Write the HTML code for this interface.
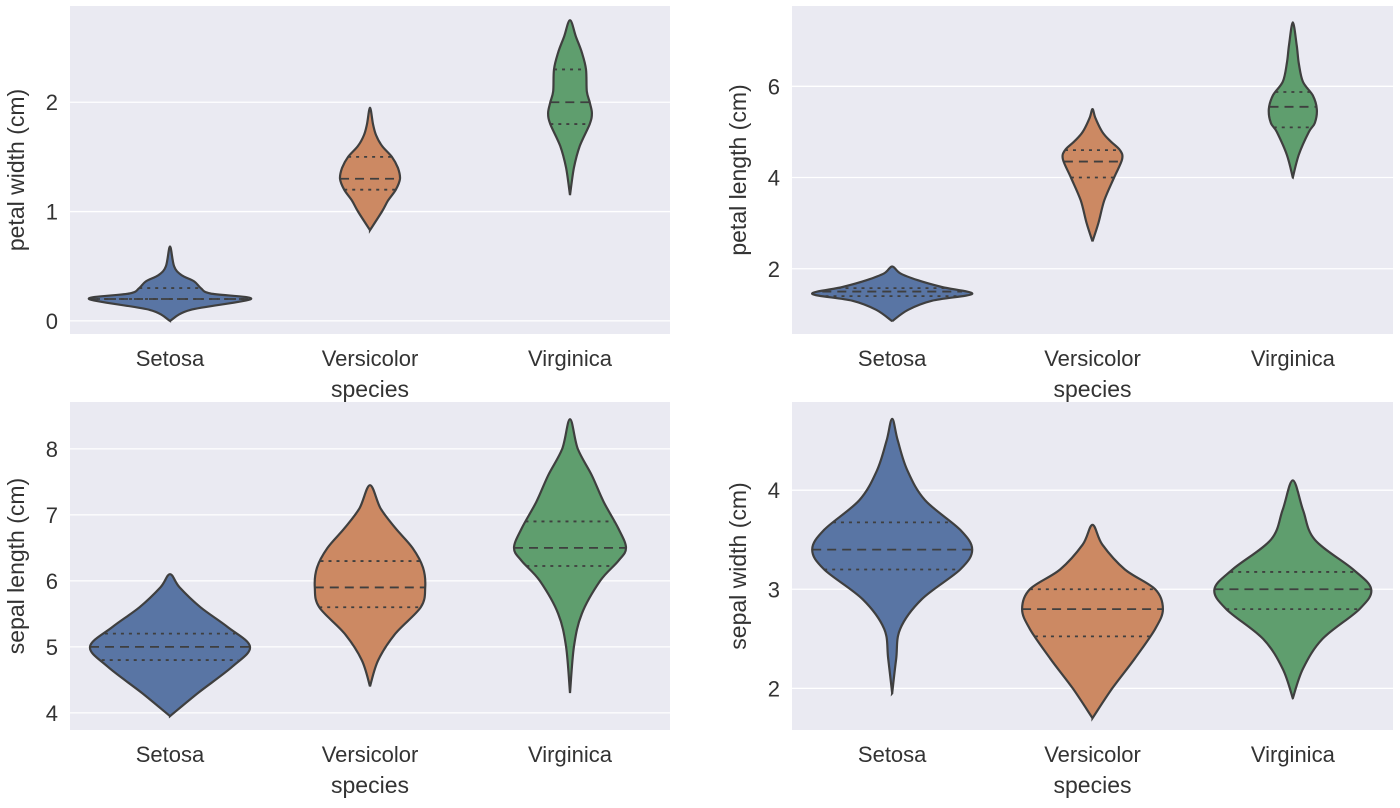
<!DOCTYPE html>
<html><head><meta charset="utf-8">
<style>
html,body{margin:0;padding:0;background:#fff;}
svg{display:block;font-family:"Liberation Sans",Arial,sans-serif;}
</style></head>
<body>
<svg id="chart" width="1400" height="808" viewBox="0 0 1400 808"></svg>
<script>
const species = ["Setosa","Versicolor","Virginica"];
const colors = ["#5975a4","#cc8963","#5f9e6e"];
const panelLabels = ["petal width (cm)","petal length (cm)","sepal length (cm)","sepal width (cm)"];
const panelTicks = [[0,1,2],[2,4,6],[4,5,6,7,8],[2,3,4]];
const pwSetosa = [[0.0,0],[0.1,0.25],[0.2,1],[0.25,0.5],[0.3,0.38],[0.36,0.3],[0.42,0.14],[0.5,0.05],[0.68,0]];
const pwVersicolor = [[0.83,0],[1.0,0.4],[1.1,0.6],[1.2,0.86],[1.3,1],[1.4,0.93],[1.5,0.73],[1.6,0.4],[1.7,0.2],[1.8,0.1],[1.95,0]];
const pwVirginica = [[1.15,0],[1.4,0.18],[1.6,0.45],[1.8,0.9],[1.9,1],[2.0,0.9],[2.1,0.77],[2.3,0.73],[2.45,0.55],[2.6,0.27],[2.75,0]];
const plSetosa = [[0.85,0],[1.1,0.2],[1.3,0.5],[1.45,1],[1.6,0.62],[1.75,0.32],[1.9,0.1],[2.05,0]];
const plVersicolor = [[2.6,0],[3.0,0.2],[3.5,0.4],[4.0,0.73],[4.4,1],[4.6,0.93],[4.8,0.6],[5.0,0.33],[5.3,0.1],[5.5,0]];
const plVirginica = [[4.0,0],[4.5,0.25],[5.0,0.67],[5.2,0.92],[5.5,1],[5.8,0.83],[6.1,0.42],[6.5,0.25],[6.9,0.16],[7.4,0]];
const slSetosa = [[3.95,0],[4.3,0.35],[4.7,0.78],[5.0,1],[5.3,0.72],[5.6,0.38],[5.9,0.12],[6.1,0]];
const slVersicolor = [[4.4,0],[4.8,0.15],[5.2,0.46],[5.6,0.92],[5.9,1],[6.2,0.96],[6.5,0.77],[6.8,0.46],[7.1,0.19],[7.45,0]];
const slVirginica = [[4.3,0],[5.0,0.07],[5.5,0.21],[6.0,0.54],[6.3,0.86],[6.5,1],[6.8,0.86],[7.2,0.6],[7.6,0.39],[8.0,0.14],[8.45,0]];
const swSetosa = [[1.95,0],[2.3,0.05],[2.6,0.1],[2.9,0.37],[3.2,0.85],[3.4,1],[3.6,0.85],[3.9,0.41],[4.2,0.19],[4.5,0.07],[4.72,0]];
const swVersicolor = [[1.7,0],[2.0,0.28],[2.3,0.6],[2.6,0.89],[2.8,1],[3.0,0.89],[3.2,0.46],[3.45,0.14],[3.65,0]];
const swVirginica = [[1.9,0],[2.2,0.13],[2.5,0.38],[2.8,0.85],[3.0,1],[3.2,0.77],[3.5,0.28],[3.8,0.13],[4.1,0]];
const pwQuart = [[0.2,0.2,0.3],[1.2,1.3,1.5],[1.8,2.0,2.3]];
const plQuart = [[1.4,1.5,1.575],[4.0,4.35,4.6],[5.1,5.55,5.875]];
const slQuart = [[4.8,5.0,5.2],[5.6,5.9,6.3],[6.225,6.5,6.9]];
const swQuart = [[3.2,3.4,3.675],[2.525,2.8,3.0],[2.8,3.0,3.175]];

const panels = [
 {x0:70,x1:670,y0:6,y1:334,vmin:-0.12,vmax:2.88,maxW:81,dens:[pwSetosa,pwVersicolor,pwVirginica],q:pwQuart},
 {x0:792,x1:1393,y0:6,y1:334,vmin:0.57,vmax:7.76,maxW:80,dens:[plSetosa,plVersicolor,plVirginica],q:plQuart},
 {x0:70,x1:670,y0:402,y1:730,vmin:3.74,vmax:8.71,maxW:80,dens:[slSetosa,slVersicolor,slVirginica],q:slQuart},
 {x0:792,x1:1393,y0:402,y1:730,vmin:1.58,vmax:4.89,maxW:80,dens:[swSetosa,swVersicolor,swVirginica],q:swQuart}
];
const widthFrac = [[1,0.37,0.27],[1,0.37,0.3],[1,0.69,0.7],[1,0.88,0.98]];

const NS="http://www.w3.org/2000/svg";
const svg=document.getElementById('chart');
function mk(tag,attrs,parent){const e=document.createElementNS(NS,tag);for(const k in attrs)e.setAttribute(k,attrs[k]);(parent||svg).appendChild(e);return e;}
function smooth(pts){let d="M"+pts[0][0]+","+pts[0][1];for(let i=0;i<pts.length-1;i++){const p0=pts[Math.max(0,i-1)],p1=pts[i],p2=pts[i+1],p3=pts[Math.min(pts.length-1,i+2)];const c1=[p1[0]+(p2[0]-p0[0])/6,p1[1]+(p2[1]-p0[1])/6];const c2=[p2[0]-(p3[0]-p1[0])/6,p2[1]-(p3[1]-p1[1])/6];d+=" C"+c1[0].toFixed(1)+","+c1[1].toFixed(1)+" "+c2[0].toFixed(1)+","+c2[1].toFixed(1)+" "+p2[0].toFixed(1)+","+p2[1].toFixed(1);}return d;}
function interpW(dens,v){for(let i=0;i<dens.length-1;i++){if(v>=dens[i][0]&&v<=dens[i+1][0]){const t=(v-dens[i][0])/(dens[i+1][0]-dens[i][0]);return dens[i][1]+t*(dens[i+1][1]-dens[i][1]);}}return 0;}

panels.forEach((p,pi)=>{
  const g=mk('g',{});
  
  
  const yS=v=>p.y1-(v-p.vmin)/(p.vmax-p.vmin)*(p.y1-p.y0);
  const band=(p.x1-p.x0)/3;
  const xS=i=>p.x0+band*(i+0.5);
  const bg=mk('rect',{x:p.x0,y:p.y0,width:p.x1-p.x0,height:p.y1-p.y0,fill:'#eaeaf2'},g);
  
  
  panelTicks[pi].forEach(t=>{
    const y=yS(t);
    const gl=mk('line',{x1:p.x0,x2:p.x1,y1:y,y2:y,stroke:'#fff','stroke-width':1.3},g);
    
    
    const tl=mk('text',{x:p.x0-12,y:y+8,'text-anchor':'end','font-size':22,fill:'#333'},g);
    tl.textContent=t;
    
    
  });
  p.dens.forEach((dens,si)=>{
    const cx=xS(si),W=p.maxW*widthFrac[pi][si];
    const right=dens.map(d=>[cx+d[1]*W,yS(d[0])]);
    const left=dens.slice().reverse().map(d=>[cx-d[1]*W,yS(d[0])]);
    const pts=right.concat(left.slice(1));
    const path=mk('path',{d:smooth(pts)+"Z",fill:colors[si],stroke:'#3f3f3f','stroke-width':2.2},g);
    
    
    p.q[si].forEach((qv,qi)=>{
      const w=interpW(dens,qv)*W;const y=yS(qv);
      const ql=mk('line',{x1:cx-w,x2:cx+w,y1:y,y2:y,stroke:'#3f3f3f','stroke-width':1.8,'stroke-dasharray':qi===1?'9,6':'3,5'},g);
      
      
    });
    const xl=mk('text',{x:cx,y:p.y1+32,'text-anchor':'middle','font-size':22,fill:'#333'},g);
    xl.textContent=species[si];
    
    
  });
  const xt=mk('text',{x:(p.x0+p.x1)/2,y:p.y1+63,'text-anchor':'middle','font-size':23,fill:'#333'},g);
  xt.textContent='species';
  
  
  const cy=(p.y0+p.y1)/2, lx=p.x0-46;
  const yt=mk('text',{x:lx,y:cy,'text-anchor':'middle','font-size':23,fill:'#333',transform:'rotate(-90 '+lx+' '+cy+')'},g);
  yt.textContent=panelLabels[pi];
  
  
});
</script>
</body></html>
